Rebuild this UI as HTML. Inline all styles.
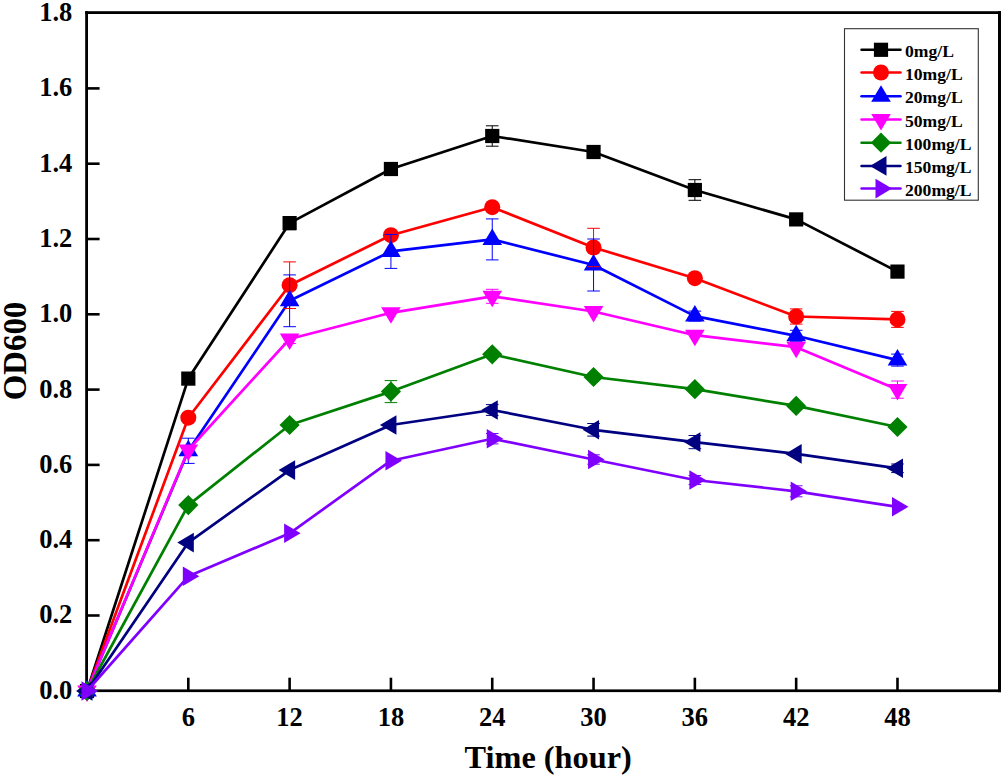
<!DOCTYPE html>
<html><head><meta charset="utf-8"><style>
html,body{margin:0;padding:0;background:#fff;width:1003px;height:778px;overflow:hidden}
svg{display:block}
text{font-family:"Liberation Serif",serif;font-weight:bold;fill:#000}
.tl{font-size:26.5px}
.at{font-size:32.3px}
.lg{font-size:17.6px}
</style></head><body>
<svg width="1003" height="778" viewBox="0 0 1003 778">
<rect x="85.2" y="11.2" width="2.8" height="681" fill="#000"/>
<rect x="85.2" y="11.2" width="915.8" height="2.8" fill="#000"/>
<rect x="998" y="11.2" width="3" height="681" fill="#000"/>
<rect x="85.2" y="689.4" width="915.8" height="2.7" fill="#000"/>
<line x1="86.8" y1="615.50" x2="99.60" y2="615.50" stroke="#000" stroke-width="2.6"/>
<line x1="86.8" y1="540.20" x2="99.60" y2="540.20" stroke="#000" stroke-width="2.6"/>
<line x1="86.8" y1="464.90" x2="99.60" y2="464.90" stroke="#000" stroke-width="2.6"/>
<line x1="86.8" y1="389.60" x2="99.60" y2="389.60" stroke="#000" stroke-width="2.6"/>
<line x1="86.8" y1="314.30" x2="99.60" y2="314.30" stroke="#000" stroke-width="2.6"/>
<line x1="86.8" y1="239.00" x2="99.60" y2="239.00" stroke="#000" stroke-width="2.6"/>
<line x1="86.8" y1="163.70" x2="99.60" y2="163.70" stroke="#000" stroke-width="2.6"/>
<line x1="86.8" y1="88.40" x2="99.60" y2="88.40" stroke="#000" stroke-width="2.6"/>
<line x1="188.31" y1="691.0" x2="188.31" y2="677.70" stroke="#000" stroke-width="2.6"/>
<line x1="289.62" y1="691.0" x2="289.62" y2="677.70" stroke="#000" stroke-width="2.6"/>
<line x1="390.93" y1="691.0" x2="390.93" y2="677.70" stroke="#000" stroke-width="2.6"/>
<line x1="492.24" y1="691.0" x2="492.24" y2="677.70" stroke="#000" stroke-width="2.6"/>
<line x1="593.55" y1="691.0" x2="593.55" y2="677.70" stroke="#000" stroke-width="2.6"/>
<line x1="694.86" y1="691.0" x2="694.86" y2="677.70" stroke="#000" stroke-width="2.6"/>
<line x1="796.17" y1="691.0" x2="796.17" y2="677.70" stroke="#000" stroke-width="2.6"/>
<line x1="897.48" y1="691.0" x2="897.48" y2="677.70" stroke="#000" stroke-width="2.6"/>
<text x="72.3" y="698.70" text-anchor="end" class="tl">0.0</text>
<text x="72.3" y="623.40" text-anchor="end" class="tl">0.2</text>
<text x="72.3" y="548.10" text-anchor="end" class="tl">0.4</text>
<text x="72.3" y="472.80" text-anchor="end" class="tl">0.6</text>
<text x="72.3" y="397.50" text-anchor="end" class="tl">0.8</text>
<text x="72.3" y="322.20" text-anchor="end" class="tl">1.0</text>
<text x="72.3" y="246.90" text-anchor="end" class="tl">1.2</text>
<text x="72.3" y="171.60" text-anchor="end" class="tl">1.4</text>
<text x="72.3" y="96.30" text-anchor="end" class="tl">1.6</text>
<text x="72.3" y="21.00" text-anchor="end" class="tl">1.8</text>
<text x="188.31" y="725.6" text-anchor="middle" class="tl">6</text>
<text x="289.62" y="725.6" text-anchor="middle" class="tl">12</text>
<text x="390.93" y="725.6" text-anchor="middle" class="tl">18</text>
<text x="492.24" y="725.6" text-anchor="middle" class="tl">24</text>
<text x="593.55" y="725.6" text-anchor="middle" class="tl">30</text>
<text x="694.86" y="725.6" text-anchor="middle" class="tl">36</text>
<text x="796.17" y="725.6" text-anchor="middle" class="tl">42</text>
<text x="897.48" y="725.6" text-anchor="middle" class="tl">48</text>
<text x="548.2" y="768.3" text-anchor="middle" class="at">Time (hour)</text>
<text transform="translate(26,351) rotate(-90)" x="0" y="0" text-anchor="middle" class="at" style="font-size:32.8px">OD600</text>
<polyline points="87.00,691.00 188.31,378.60 289.62,223.10 390.93,169.00 492.24,136.00 593.55,152.00 694.86,190.00 796.17,219.40 897.48,271.60" fill="none" stroke="#000000" stroke-width="2.7" stroke-linejoin="round"/>
<rect x="79.90" y="683.90" width="14.20" height="14.20" fill="#000000"/>
<rect x="181.21" y="371.50" width="14.20" height="14.20" fill="#000000"/>
<rect x="282.52" y="216.00" width="14.20" height="14.20" fill="#000000"/>
<rect x="383.83" y="161.90" width="14.20" height="14.20" fill="#000000"/>
<rect x="485.14" y="128.90" width="14.20" height="14.20" fill="#000000"/>
<rect x="586.45" y="144.90" width="14.20" height="14.20" fill="#000000"/>
<rect x="687.76" y="182.90" width="14.20" height="14.20" fill="#000000"/>
<rect x="789.07" y="212.30" width="14.20" height="14.20" fill="#000000"/>
<rect x="890.38" y="264.50" width="14.20" height="14.20" fill="#000000"/>
<polyline points="87.00,691.00 188.31,417.70 289.62,285.20 390.93,235.20 492.24,207.20 593.55,247.50 694.86,278.20 796.17,316.50 897.48,319.40" fill="none" stroke="#FF0000" stroke-width="2.7" stroke-linejoin="round"/>
<circle cx="87.00" cy="691.00" r="8.0" fill="#FF0000"/>
<circle cx="188.31" cy="417.70" r="8.0" fill="#FF0000"/>
<circle cx="289.62" cy="285.20" r="8.0" fill="#FF0000"/>
<circle cx="390.93" cy="235.20" r="8.0" fill="#FF0000"/>
<circle cx="492.24" cy="207.20" r="8.0" fill="#FF0000"/>
<circle cx="593.55" cy="247.50" r="8.0" fill="#FF0000"/>
<circle cx="694.86" cy="278.20" r="8.0" fill="#FF0000"/>
<circle cx="796.17" cy="316.50" r="8.0" fill="#FF0000"/>
<circle cx="897.48" cy="319.40" r="8.0" fill="#FF0000"/>
<polyline points="87.00,691.00 188.31,450.80 289.62,300.80 390.93,251.40 492.24,239.40 593.55,265.00 694.86,316.10 796.17,335.80 897.48,360.10" fill="none" stroke="#0000FF" stroke-width="2.7" stroke-linejoin="round"/>
<polygon points="87.00,680.00 96.80,696.50 77.20,696.50" fill="#0000FF"/>
<polygon points="188.31,439.80 198.11,456.30 178.51,456.30" fill="#0000FF"/>
<polygon points="289.62,289.80 299.42,306.30 279.82,306.30" fill="#0000FF"/>
<polygon points="390.93,240.40 400.73,256.90 381.13,256.90" fill="#0000FF"/>
<polygon points="492.24,228.40 502.04,244.90 482.44,244.90" fill="#0000FF"/>
<polygon points="593.55,254.00 603.35,270.50 583.75,270.50" fill="#0000FF"/>
<polygon points="694.86,305.10 704.66,321.60 685.06,321.60" fill="#0000FF"/>
<polygon points="796.17,324.80 805.97,341.30 786.37,341.30" fill="#0000FF"/>
<polygon points="897.48,349.10 907.28,365.60 887.68,365.60" fill="#0000FF"/>
<path d="M492.24,125.80V146.20M485.94,125.80H498.54M485.94,146.20H498.54" stroke="#000000" stroke-width="1.0" fill="none"/>
<path d="M694.86,179.70V200.30M688.56,179.70H701.16M688.56,200.30H701.16" stroke="#000000" stroke-width="1.0" fill="none"/>
<path d="M289.62,216.50V229.70M283.32,216.50H295.92M283.32,229.70H295.92" stroke="#000000" stroke-width="1.0" fill="none"/>
<path d="M289.62,261.90V308.50M283.32,261.90H295.92M283.32,308.50H295.92" stroke="#FF0000" stroke-width="1.0" fill="none"/>
<path d="M593.55,228.30V266.70M587.25,228.30H599.85M587.25,266.70H599.85" stroke="#FF0000" stroke-width="1.0" fill="none"/>
<path d="M796.17,308.90V324.10M789.87,308.90H802.47M789.87,324.10H802.47" stroke="#FF0000" stroke-width="1.0" fill="none"/>
<path d="M897.48,311.40V327.40M891.18,311.40H903.78M891.18,327.40H903.78" stroke="#FF0000" stroke-width="1.0" fill="none"/>
<path d="M188.31,438.20V463.40M182.01,438.20H194.61M182.01,463.40H194.61" stroke="#0000FF" stroke-width="1.0" fill="none"/>
<path d="M289.62,274.90V326.70M283.32,274.90H295.92M283.32,326.70H295.92" stroke="#0000FF" stroke-width="1.0" fill="none"/>
<path d="M390.93,234.40V268.40M384.63,234.40H397.23M384.63,268.40H397.23" stroke="#0000FF" stroke-width="1.0" fill="none"/>
<path d="M492.24,218.90V259.90M485.94,218.90H498.54M485.94,259.90H498.54" stroke="#0000FF" stroke-width="1.0" fill="none"/>
<path d="M593.55,239.00V291.00M587.25,239.00H599.85M587.25,291.00H599.85" stroke="#0000FF" stroke-width="1.0" fill="none"/>
<path d="M694.86,311.10V321.10M688.56,311.10H701.16M688.56,321.10H701.16" stroke="#0000FF" stroke-width="1.0" fill="none"/>
<path d="M796.17,330.30V341.30M789.87,330.30H802.47M789.87,341.30H802.47" stroke="#0000FF" stroke-width="1.0" fill="none"/>
<path d="M897.48,354.10V366.10M891.18,354.10H903.78M891.18,366.10H903.78" stroke="#0000FF" stroke-width="1.0" fill="none"/>
<polyline points="87.00,691.00 188.31,450.00 289.62,339.00 390.93,312.80 492.24,296.30 593.55,311.50 694.86,335.20 796.17,347.20 897.48,389.60" fill="none" stroke="#FF00FF" stroke-width="2.7" stroke-linejoin="round"/>
<polygon points="87.00,702.00 96.80,685.50 77.20,685.50" fill="#FF00FF"/>
<polygon points="188.31,461.00 198.11,444.50 178.51,444.50" fill="#FF00FF"/>
<polygon points="289.62,350.00 299.42,333.50 279.82,333.50" fill="#FF00FF"/>
<polygon points="390.93,323.80 400.73,307.30 381.13,307.30" fill="#FF00FF"/>
<polygon points="492.24,307.30 502.04,290.80 482.44,290.80" fill="#FF00FF"/>
<polygon points="593.55,322.50 603.35,306.00 583.75,306.00" fill="#FF00FF"/>
<polygon points="694.86,346.20 704.66,329.70 685.06,329.70" fill="#FF00FF"/>
<polygon points="796.17,358.20 805.97,341.70 786.37,341.70" fill="#FF00FF"/>
<polygon points="897.48,400.60 907.28,384.10 887.68,384.10" fill="#FF00FF"/>
<path d="M492.24,289.30V303.30M485.94,289.30H498.54M485.94,303.30H498.54" stroke="#FF00FF" stroke-width="1.0" fill="none"/>
<path d="M897.48,381.00V398.20M891.18,381.00H903.78M891.18,398.20H903.78" stroke="#FF00FF" stroke-width="1.0" fill="none"/>
<path d="M289.62,334.50V343.50M283.32,334.50H295.92M283.32,343.50H295.92" stroke="#FF00FF" stroke-width="1.0" fill="none"/>
<polyline points="87.00,691.00 188.31,505.10 289.62,425.00 390.93,391.60 492.24,354.30 593.55,377.00 694.86,389.20 796.17,405.90 897.48,427.00" fill="none" stroke="#008000" stroke-width="2.7" stroke-linejoin="round"/>
<polygon points="87.00,680.90 97.10,691.00 87.00,701.10 76.90,691.00" fill="#008000"/>
<polygon points="188.31,495.00 198.41,505.10 188.31,515.20 178.21,505.10" fill="#008000"/>
<polygon points="289.62,414.90 299.72,425.00 289.62,435.10 279.52,425.00" fill="#008000"/>
<polygon points="390.93,381.50 401.03,391.60 390.93,401.70 380.83,391.60" fill="#008000"/>
<polygon points="492.24,344.20 502.34,354.30 492.24,364.40 482.14,354.30" fill="#008000"/>
<polygon points="593.55,366.90 603.65,377.00 593.55,387.10 583.45,377.00" fill="#008000"/>
<polygon points="694.86,379.10 704.96,389.20 694.86,399.30 684.76,389.20" fill="#008000"/>
<polygon points="796.17,395.80 806.27,405.90 796.17,416.00 786.07,405.90" fill="#008000"/>
<polygon points="897.48,416.90 907.58,427.00 897.48,437.10 887.38,427.00" fill="#008000"/>
<path d="M390.93,380.60V402.60M384.63,380.60H397.23M384.63,402.60H397.23" stroke="#008000" stroke-width="1.0" fill="none"/>
<polyline points="87.00,691.00 188.31,542.60 289.62,470.10 390.93,425.00 492.24,410.00 593.55,429.80 694.86,442.10 796.17,453.90 897.48,468.30" fill="none" stroke="#000080" stroke-width="2.7" stroke-linejoin="round"/>
<polygon points="76.00,691.00 92.50,681.20 92.50,700.80" fill="#000080"/>
<polygon points="177.31,542.60 193.81,532.80 193.81,552.40" fill="#000080"/>
<polygon points="278.62,470.10 295.12,460.30 295.12,479.90" fill="#000080"/>
<polygon points="379.93,425.00 396.43,415.20 396.43,434.80" fill="#000080"/>
<polygon points="481.24,410.00 497.74,400.20 497.74,419.80" fill="#000080"/>
<polygon points="582.55,429.80 599.05,420.00 599.05,439.60" fill="#000080"/>
<polygon points="683.86,442.10 700.36,432.30 700.36,451.90" fill="#000080"/>
<polygon points="785.17,453.90 801.67,444.10 801.67,463.70" fill="#000080"/>
<polygon points="886.48,468.30 902.98,458.50 902.98,478.10" fill="#000080"/>
<path d="M492.24,404.60V415.40M485.94,404.60H498.54M485.94,415.40H498.54" stroke="#000080" stroke-width="1.0" fill="none"/>
<path d="M593.55,423.50V436.10M587.25,423.50H599.85M587.25,436.10H599.85" stroke="#000080" stroke-width="1.0" fill="none"/>
<path d="M694.86,435.50V448.70M688.56,435.50H701.16M688.56,448.70H701.16" stroke="#000080" stroke-width="1.0" fill="none"/>
<path d="M897.48,464.00V472.60M891.18,464.00H903.78M891.18,472.60H903.78" stroke="#000080" stroke-width="1.0" fill="none"/>
<polyline points="87.00,691.00 188.31,576.30 289.62,533.30 390.93,460.70 492.24,438.70 593.55,459.50 694.86,480.00 796.17,491.30 897.48,506.80" fill="none" stroke="#8000FF" stroke-width="2.7" stroke-linejoin="round"/>
<polygon points="98.00,691.00 81.50,681.20 81.50,700.80" fill="#8000FF"/>
<polygon points="199.31,576.30 182.81,566.50 182.81,586.10" fill="#8000FF"/>
<polygon points="300.62,533.30 284.12,523.50 284.12,543.10" fill="#8000FF"/>
<polygon points="401.93,460.70 385.43,450.90 385.43,470.50" fill="#8000FF"/>
<polygon points="503.24,438.70 486.74,428.90 486.74,448.50" fill="#8000FF"/>
<polygon points="604.55,459.50 588.05,449.70 588.05,469.30" fill="#8000FF"/>
<polygon points="705.86,480.00 689.36,470.20 689.36,489.80" fill="#8000FF"/>
<polygon points="807.17,491.30 790.67,481.50 790.67,501.10" fill="#8000FF"/>
<polygon points="908.48,506.80 891.98,497.00 891.98,516.60" fill="#8000FF"/>
<path d="M492.24,433.50V443.90M485.94,433.50H498.54M485.94,443.90H498.54" stroke="#8000FF" stroke-width="1.0" fill="none"/>
<path d="M593.55,454.80V464.20M587.25,454.80H599.85M587.25,464.20H599.85" stroke="#8000FF" stroke-width="1.0" fill="none"/>
<path d="M694.86,475.50V484.50M688.56,475.50H701.16M688.56,484.50H701.16" stroke="#8000FF" stroke-width="1.0" fill="none"/>
<path d="M796.17,485.80V496.80M789.87,485.80H802.47M789.87,496.80H802.47" stroke="#8000FF" stroke-width="1.0" fill="none"/>
<rect x="844.5" y="28.7" width="133.80" height="171.50" fill="#fff" stroke="#333" stroke-width="1.1"/>
<line x1="861.5" y1="49.8" x2="900.5" y2="49.8" stroke="#000000" stroke-width="2.5" stroke-linecap="round"/>
<rect x="873.90" y="42.70" width="14.20" height="14.20" fill="#000000"/>
<text x="905" y="57.00" class="lg">0mg/L</text>
<line x1="861.5" y1="72.5" x2="900.5" y2="72.5" stroke="#FF0000" stroke-width="2.5" stroke-linecap="round"/>
<circle cx="881.00" cy="72.50" r="8.0" fill="#FF0000"/>
<text x="905" y="79.70" class="lg">10mg/L</text>
<line x1="861.5" y1="96.2" x2="900.5" y2="96.2" stroke="#0000FF" stroke-width="2.5" stroke-linecap="round"/>
<polygon points="881.00,85.20 890.80,101.70 871.20,101.70" fill="#0000FF"/>
<text x="905" y="103.40" class="lg">20mg/L</text>
<line x1="861.5" y1="119.5" x2="900.5" y2="119.5" stroke="#FF00FF" stroke-width="2.5" stroke-linecap="round"/>
<polygon points="881.00,130.50 890.80,114.00 871.20,114.00" fill="#FF00FF"/>
<text x="905" y="126.70" class="lg">50mg/L</text>
<line x1="861.5" y1="142.7" x2="900.5" y2="142.7" stroke="#008000" stroke-width="2.5" stroke-linecap="round"/>
<polygon points="881.00,132.60 891.10,142.70 881.00,152.80 870.90,142.70" fill="#008000"/>
<text x="905" y="149.90" class="lg">100mg/L</text>
<line x1="861.5" y1="165.9" x2="900.5" y2="165.9" stroke="#000080" stroke-width="2.5" stroke-linecap="round"/>
<polygon points="870.00,165.90 886.50,156.10 886.50,175.70" fill="#000080"/>
<text x="905" y="173.10" class="lg">150mg/L</text>
<line x1="861.5" y1="188.6" x2="900.5" y2="188.6" stroke="#8000FF" stroke-width="2.5" stroke-linecap="round"/>
<polygon points="892.00,188.60 875.50,178.80 875.50,198.40" fill="#8000FF"/>
<text x="905" y="195.80" class="lg">200mg/L</text>
</svg>
</body></html>
